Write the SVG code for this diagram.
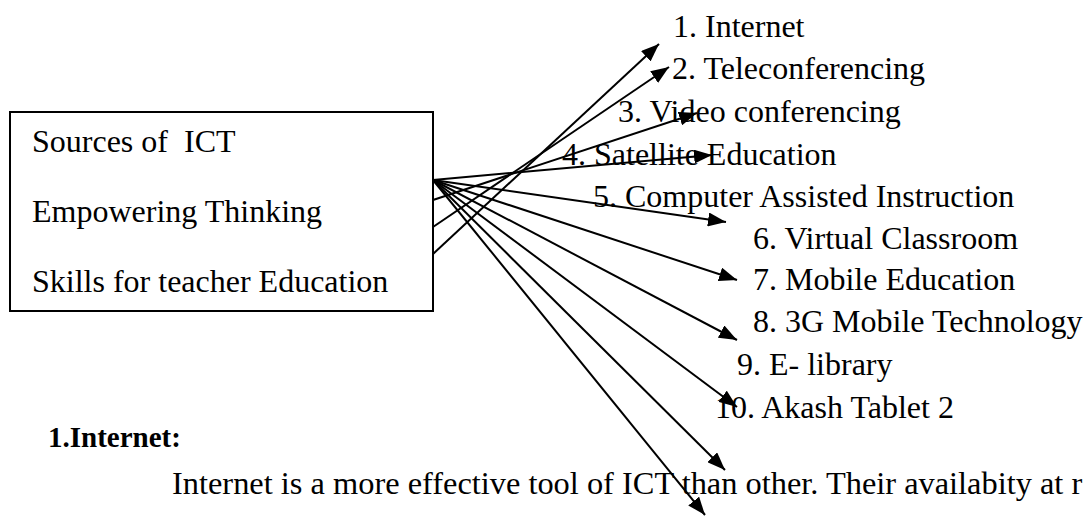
<svg xmlns="http://www.w3.org/2000/svg" width="1086" height="516" viewBox="0 0 1086 516">
<style>
text{font-family:'Liberation Serif','DejaVu Serif',serif;fill:#000;white-space:pre}
.t{font-size:32px}
.p{font-size:32.4px}
.b{font-size:29px;font-weight:bold}
.c{stroke:#000;stroke-width:2;fill:none;marker-end:url(#ah)}
</style>
<defs>
<marker id="ah" markerUnits="userSpaceOnUse" markerWidth="20" markerHeight="14" refX="18" refY="7" orient="auto">
<path d="M0,0 L18,7 L0,14 z" fill="#000"/>
</marker>
</defs>
<rect width="1086" height="516" fill="#fff"/>
<g id="source" font-family="Liberation Serif, serif">
<rect x="10" y="112" width="423" height="199" fill="#fff" stroke="#000" stroke-width="2"/>
<text class="t" x="32" y="152">Sources of  ICT</text>
<text class="t" x="32" y="222">Empowering Thinking</text>
<text class="t" x="32" y="292">Skills for teacher Education</text>
</g>
<g id="items" font-family="Liberation Serif, serif">
<text class="t" x="673" y="37">1. Internet</text>
<text class="t" x="672" y="79">2. Teleconferencing</text>
<text class="t" x="618" y="122">3. Video conferencing</text>
<text class="t" x="562" y="165">4. Satellite Education</text>
<text class="t" x="593" y="207">5. Computer Assisted Instruction</text>
<text class="t" x="753" y="249">6. Virtual Classroom</text>
<text class="t" x="753" y="290">7. Mobile Education</text>
<text class="t" x="753" y="332">8. 3G Mobile Technology</text>
<text class="t" x="737" y="375">9. E- library</text>
<text class="t" x="715" y="418">10. Akash Tablet 2</text>
</g>
<g id="connectors">
<line class="c" x1="433" y1="254" x2="659" y2="44"/>
<line class="c" x1="433" y1="227" x2="669" y2="67"/>
<line class="c" x1="433" y1="200" x2="697" y2="113"/>
<line class="c" x1="433" y1="180" x2="712" y2="155"/>
<line class="c" x1="433" y1="180" x2="726" y2="222"/>
<line class="c" x1="433" y1="180" x2="737" y2="280"/>
<line class="c" x1="433" y1="180" x2="737" y2="340"/>
<line class="c" x1="433" y1="180" x2="737" y2="407"/>
<line class="c" x1="433" y1="180" x2="725" y2="470"/>
<line class="c" x1="433" y1="180" x2="705" y2="515"/>
</g>
<g id="body" font-family="Liberation Serif, serif">
<text class="b" x="48" y="447">1.Internet:</text>
<text class="p" x="172" y="494">Internet is a more effective tool of ICT than other. Their availabity at r</text>
</g>
</svg>
